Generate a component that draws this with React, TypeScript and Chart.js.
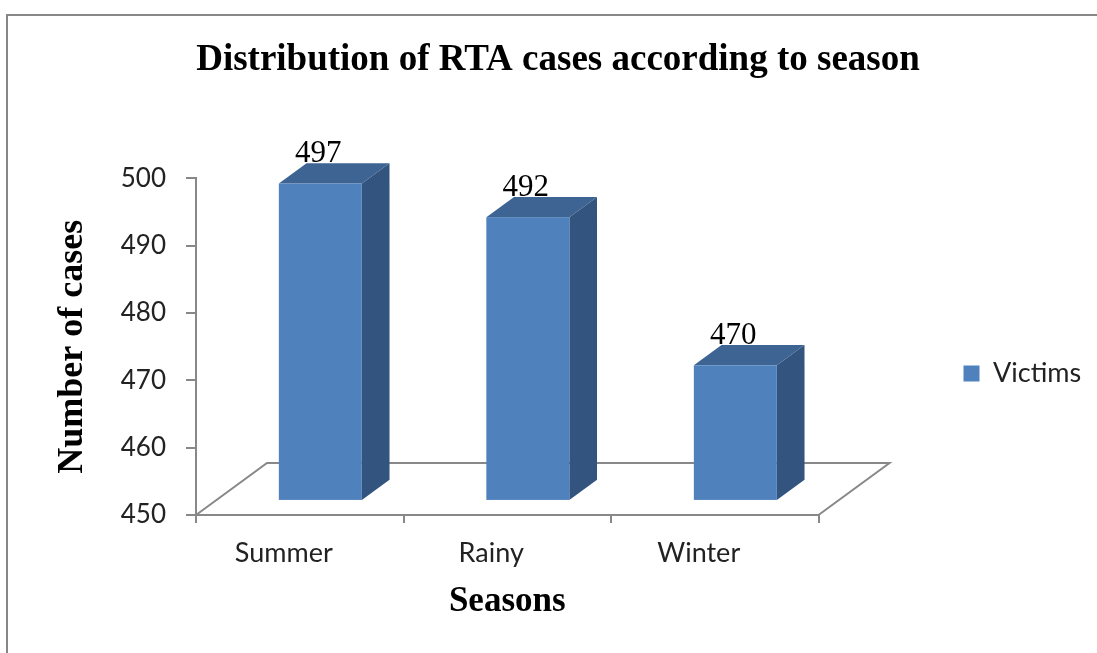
import React, { useEffect, useRef } from 'react';
import { Chart, registerables } from 'chart.js';

Chart.register(...registerables);

// ---------- data ----------
const categories = ['Summer', 'Rainy', 'Winter'];
const victims = [497, 492, 470];
const seriesLabel = 'Victims';
const yMin = 450;
const yMax = 500;
const yStep = 10;
const chartTitle = 'Distribution of RTA cases according to season';
const xTitle = 'Seasons';
const yTitle = 'Number of cases';

// ---------- style ----------
const FRONT = '#4f81bd';
const TOP = '#3d6493';
const SIDE = '#32547e';
const AXIS = '#888888';
const FLOOR_DX = 71;
const FLOOR_DY = -52;
const BAR_FRONT = 0.29; // bar front plane, fraction of floor depth
const BAR_DEPTH = 0.39; // bar depth, fraction of floor depth
const LEGEND_SHIFT_Y = 43;
const LEGEND_EXTRA_W = 12;

const SERIF = '"Liberation Serif", "Times New Roman", serif';
const SANS = 'Lato, "Open Sans", sans-serif';

const PAD_L = 37;
const PAD_R = 18;
const PAD_T = 38;
const PAD_B = 30;
const AREA_LEFT = 196;
const AREA_BOTTOM = 515;

const legendShift = {
  id: 'legendShift',
  afterLayout(chart: any) {
    const lg = chart.legend;
    if (lg) {
      lg.top += LEGEND_SHIFT_Y;
      lg.bottom += LEGEND_SHIFT_Y;
      lg.right += LEGEND_EXTRA_W;
      lg.width += LEGEND_EXTRA_W;
    }
  },
};

const bar3d = {
  id: 'bar3d',
  beforeDatasetsDraw(chart: any) {
    const { ctx, chartArea, scales } = chart;
    const y0 = scales.y.getPixelForValue(scales.y.min);
    const x0 = chartArea.left;
    const x1 = chartArea.right;
    ctx.save();
    ctx.strokeStyle = AXIS;
    ctx.lineWidth = 2;
    ctx.beginPath();
    ctx.moveTo(x0, y0);
    ctx.lineTo(x0 + FLOOR_DX, y0 + FLOOR_DY);
    ctx.lineTo(x1 + FLOOR_DX, y0 + FLOOR_DY);
    ctx.lineTo(x1, y0);
    ctx.stroke();
    ctx.restore();
  },
  beforeDatasetDraw() {
    return false;
  },
  afterDatasetsDraw(chart: any) {
    const { ctx, scales } = chart;
    const meta = chart.getDatasetMeta(0);
    const fx = FLOOR_DX * BAR_FRONT;
    const fy = FLOOR_DY * BAR_FRONT;
    const bx = FLOOR_DX * BAR_DEPTH;
    const by = FLOOR_DY * BAR_DEPTH;
    const basePx = scales.y.getPixelForValue(scales.y.min);
    ctx.save();
    meta.data.forEach((el: any, i: number) => {
      const { x, y, width } = el.getProps(['x', 'y', 'width'], true);
      const L = x - width / 2 + fx;
      const R = x + width / 2 + fx;
      const T = y + fy;
      const B = basePx + fy;
      // side
      ctx.fillStyle = SIDE;
      ctx.beginPath();
      ctx.moveTo(R, T);
      ctx.lineTo(R + bx, T + by);
      ctx.lineTo(R + bx, B + by);
      ctx.lineTo(R, B);
      ctx.closePath();
      ctx.fill();
      // top
      ctx.fillStyle = TOP;
      ctx.beginPath();
      ctx.moveTo(L, T);
      ctx.lineTo(L + bx, T + by);
      ctx.lineTo(R + bx, T + by);
      ctx.lineTo(R, T);
      ctx.closePath();
      ctx.fill();
      // front
      ctx.fillStyle = FRONT;
      ctx.fillRect(L, T, R - L, B - T);
      // value label
      const v = chart.data.datasets[0].data[i];
      ctx.fillStyle = '#000';
      ctx.font = `31px ${SERIF}`;
      ctx.textAlign = 'center';
      ctx.textBaseline = 'alphabetic';
      ctx.fillText(String(v), (L + R) / 2 - 2, T + by - 1);
    });
    ctx.restore();
  },
};

export default function App() {
  const ref = useRef<HTMLCanvasElement>(null);

  useEffect(() => {
    const chart = new Chart(ref.current as HTMLCanvasElement, {
      type: 'bar',
      data: {
        labels: categories,
        datasets: [
          {
            label: seriesLabel,
            data: victims,
            base: yMin,
            backgroundColor: FRONT,
            borderWidth: 0,
            barPercentage: 1,
            categoryPercentage: 0.4,
          },
        ],
      },
      plugins: [bar3d, legendShift],
      options: {
        responsive: false,
        devicePixelRatio: 1,
        animation: false,
        layout: { padding: { left: PAD_L, right: PAD_R, top: PAD_T, bottom: PAD_B } },
        plugins: {
          title: {
            display: true,
            text: chartTitle,
            color: '#000',
            font: { family: SERIF, size: 37, weight: 'bold' },
            padding: { top: 0, bottom: 96 },
          },
          legend: {
            position: 'right',
            align: 'center',
            labels: {
              color: '#222',
              font: { family: SANS, size: 27 },
              boxWidth: 16,
              boxHeight: 16,
              padding: 145,
            },
          },
          tooltip: { enabled: false },
        },
        scales: {
          x: {
            afterFit: (s: any) => {
              s.height = 653 - PAD_B - AREA_BOTTOM;
            },
            grid: {
              display: true,
              drawOnChartArea: false,
              drawTicks: true,
              tickLength: 8,
              color: AXIS,
              lineWidth: 2,
            },
            border: { display: true, color: AXIS, width: 2 },
            ticks: {
              color: '#222',
              font: { family: SANS, size: 27 },
              padding: 14,
              labelOffset: -16,
            },
            title: {
              display: true,
              text: xTitle,
              color: '#000',
              font: { family: SERIF, size: 35, weight: 'bold' },
              padding: { top: 0, bottom: 0 },
            },
          },
          y: {
            min: yMin,
            max: yMax,
            afterFit: (s: any) => {
              s.width = AREA_LEFT - PAD_L;
            },
            grid: {
              display: true,
              drawOnChartArea: false,
              drawTicks: true,
              tickLength: 10,
              color: AXIS,
              lineWidth: 2,
            },
            border: { display: true, color: AXIS, width: 2 },
            ticks: { stepSize: yStep, color: '#222', font: { family: SANS, size: 26 }, padding: 20 },
            title: {
              display: true,
              text: yTitle,
              color: '#000',
              font: { family: SERIF, size: 36, weight: 'bold' },
              padding: { top: 14, bottom: 0 },
            },
          },
        },
      },
    } as any);
    return () => chart.destroy();
  }, []);

  return (
    <div
      style={{
        position: 'absolute',
        left: 0,
        top: 0,
        width: 1097,
        height: 653,
        overflow: 'hidden',
        background: '#fff',
      }}
    >
      <div
        style={{
          position: 'absolute',
          left: 6,
          top: 14,
          width: 1200,
          height: 800,
          borderLeft: '2px solid #878787',
          borderTop: '2px solid #878787',
        }}
      />
      <canvas
        ref={ref}
        width={1097}
        height={653}
        style={{ position: 'absolute', left: 0, top: 0, width: 1097, height: 653 }}
      />
    </div>
  );
}
